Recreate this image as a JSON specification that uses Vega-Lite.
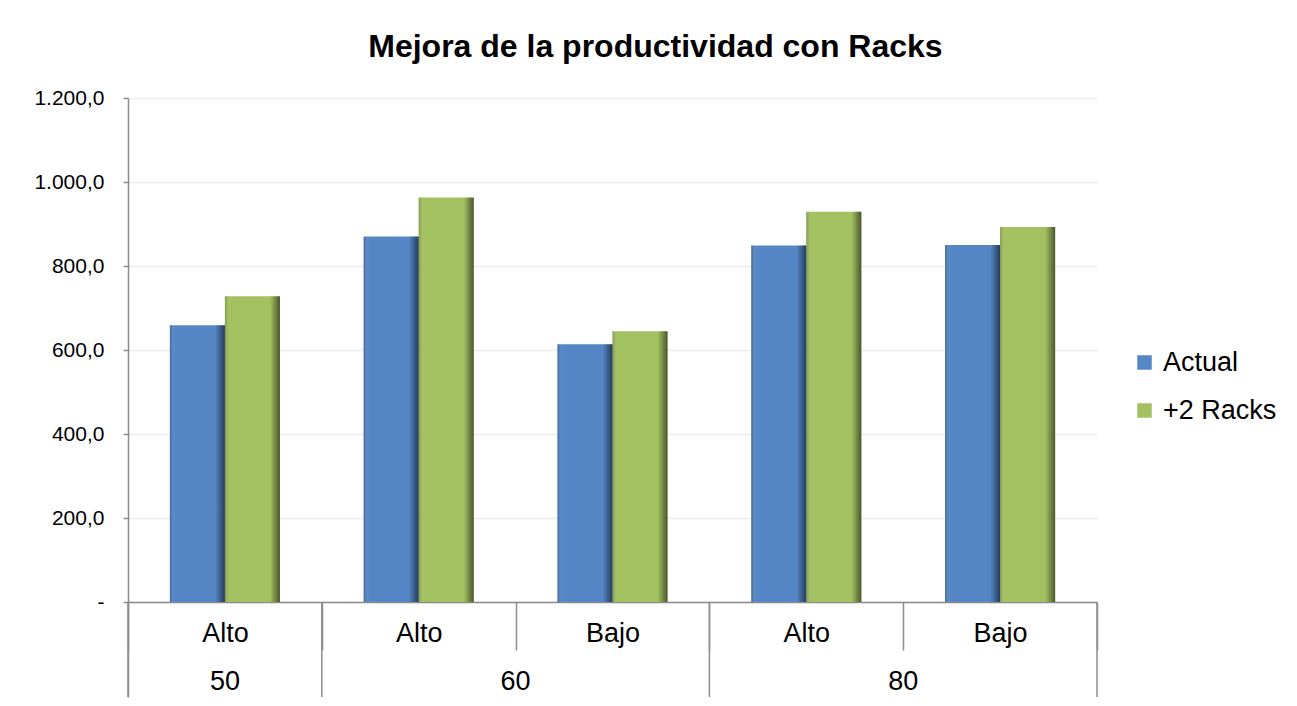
{
  "$schema": "https://vega.github.io/schema/vega-lite/v6.json",
  "width": 969,
  "height": 599,
  "padding": {"left": 33, "top": 31, "right": 10, "bottom": 2},
  "config": {
    "locale": {"number": {"decimal": ",", "thousands": ".", "grouping": [3], "currency": ["", " €"]}},
    "font": "Liberation Sans",
    "view": {"stroke": null}
  },
  "title": {
    "text": "Mejora de la productividad con Racks",
    "fontSize": 32,
    "fontWeight": "bold",
    "font": "Liberation Sans",
    "color": "#000000",
    "anchor": "middle",
    "frame": "bounds",
    "offset": 23
  },
  "data": {
    "values": [
      {"cat": "50|Alto", "serie": "Actual", "valor": 659},
      {"cat": "50|Alto", "serie": "+2 Racks", "valor": 728},
      {"cat": "60|Alto", "serie": "Actual", "valor": 870},
      {"cat": "60|Alto", "serie": "+2 Racks", "valor": 963},
      {"cat": "60|Bajo", "serie": "Actual", "valor": 614},
      {"cat": "60|Bajo", "serie": "+2 Racks", "valor": 645},
      {"cat": "80|Alto", "serie": "Actual", "valor": 849},
      {"cat": "80|Alto", "serie": "+2 Racks", "valor": 929},
      {"cat": "80|Bajo", "serie": "Actual", "valor": 850},
      {"cat": "80|Bajo", "serie": "+2 Racks", "valor": 893}
    ]
  },
  "layer": [
    {
      "mark": {"type": "bar"},
      "encoding": {
        "x": {
          "field": "cat",
          "type": "nominal",
          "scale": {"domain": ["50|Alto", "60|Alto", "60|Bajo", "80|Alto", "80|Bajo"], "paddingInner": 0, "paddingOuter": 0},
          "axis": {
            "title": null,
            "offset": -95,
            "labelExpr": "split(datum.value, '|')[1]",
            "labelAngle": 0,
            "labelFontSize": 27,
            "labelColor": "#000000",
            "labelFont": "Liberation Sans",
            "tickBand": "extent",
            "tickSize": 48,
            "labelPadding": -17,
            "tickColor": "#8c8c8c",
            "tickWidth": 1.5,
            "domainColor": "#8c8c8c",
            "domainWidth": 1.5,
            "labelBaseline": "middle"
          }
        },
        "xOffset": {
          "field": "serie",
          "type": "nominal",
          "sort": ["Actual", "+2 Racks"],
          "scale": {"paddingInner": 0, "paddingOuter": 0.76}
        },
        "y": {
          "field": "valor",
          "type": "quantitative",
          "scale": {"domain": [-226, 1200], "nice": false, "zero": false},
          "axis": {
            "title": null,
            "values": [0, 200, 400, 600, 800, 1000, 1200],
            "format": ",.1f",
            "labelExpr": "datum.value == 0 ? '-' : datum.label",
            "labelFontSize": 21,
            "labelColor": "#000000",
            "labelFont": "Liberation Sans",
            "labelPadding": 19,
            "tickSize": 5,
            "tickColor": "#8c8c8c",
            "tickWidth": 1.5,
            "domainColor": "#8c8c8c",
            "domainWidth": 1.5,
            "gridColor": "#ececec",
            "gridWidth": 1.5
          }
        },
        "y2": {"datum": 0},
        "color": {
          "field": "serie",
          "type": "nominal",
          "scale": {"domain": ["Actual", "+2 Racks"], "range": ["#5587C6", "#A3C161"]},
          "legend": {
            "title": null,
            "orient": "none",
            "legendX": 1003,
            "legendY": 251,
            "symbolType": "square",
            "symbolSize": 210,
            "symbolStrokeWidth": 0,
            "labelFontSize": 27,
            "labelFont": "Liberation Sans",
            "labelColor": "#000000",
            "labelOffset": 5,
            "rowPadding": 20
          }
        }
      }
    },
    {
      "mark": {
        "type": "bar",
        "fill": {
          "gradient": "linear",
          "x1": 0, "y1": 0, "x2": 1, "y2": 0,
          "stops": [
            {"offset": 0, "color": "rgba(0,0,0,0.22)"},
            {"offset": 0.1, "color": "rgba(255,255,255,0)"},
            {"offset": 0.82, "color": "rgba(0,0,0,0)"},
            {"offset": 1, "color": "rgba(0,0,0,0.55)"}
          ]
        }
      },
      "encoding": {
        "x": {"field": "cat", "type": "nominal"},
        "xOffset": {"field": "serie", "type": "nominal", "sort": ["Actual", "+2 Racks"]},
        "y": {"field": "valor", "type": "quantitative"},
        "y2": {"datum": 0}
      }
    },
    {
      "data": {"values": [{"cat": "50|Alto"}, {"cat": "60|Alto"}, {"cat": "80|Alto"}]},
      "mark": {"type": "rule", "color": "#8c8c8c", "strokeWidth": 1.5},
      "encoding": {
        "x": {"field": "cat", "type": "nominal", "bandPosition": 0},
        "y": {"datum": 0},
        "y2": {"datum": -226}
      }
    },
    {
      "data": {"values": [{"cat": "80|Bajo"}]},
      "mark": {"type": "rule", "color": "#8c8c8c", "strokeWidth": 1.5},
      "encoding": {
        "x": {"field": "cat", "type": "nominal", "bandPosition": 1},
        "y": {"datum": 0},
        "y2": {"datum": -226}
      }
    },
    {
      "data": {"values": [{"cat": "50|Alto", "grupo": "50"}]},
      "mark": {"type": "text", "fontSize": 27, "font": "Liberation Sans", "color": "#000000", "baseline": "middle"},
      "encoding": {
        "x": {"field": "cat", "type": "nominal", "bandPosition": 0.5},
        "y": {"datum": -190},
        "text": {"field": "grupo"}
      }
    },
    {
      "data": {"values": [{"cat": "60|Bajo", "grupo": "60"}, {"cat": "80|Bajo", "grupo": "80"}]},
      "mark": {"type": "text", "fontSize": 27, "font": "Liberation Sans", "color": "#000000", "baseline": "middle"},
      "encoding": {
        "x": {"field": "cat", "type": "nominal", "bandPosition": 0},
        "y": {"datum": -190},
        "text": {"field": "grupo"}
      }
    }
  ]
}
